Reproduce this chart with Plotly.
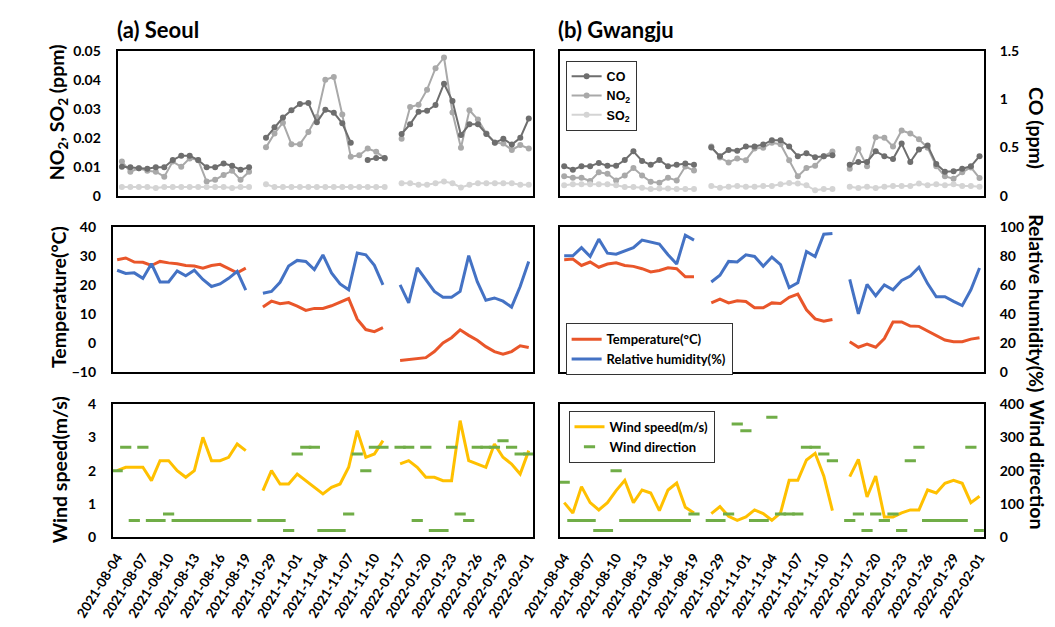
import pandas as pd
import plotly.graph_objects as go

# ---- categories: three sampling campaigns separated by an empty slot ----
def day_labels(start, end):
    return [d.strftime("%Y-%m-%d") for d in pd.date_range(start, end)]

summer = day_labels("2021-08-04", "2021-08-19")
autumn = day_labels("2021-10-28", "2021-11-11")
winter = day_labels("2022-01-17", "2022-02-01")
dates = summer + [" "] + autumn + ["  "] + winter
tick_dates = dates[::3]


def join(p1, p2, p3):
    # None in the spacer slots breaks the line between campaigns
    return p1 + [None] + p2 + [None] + p3


# ---- Seoul ----
seoul_no2 = join(
    [0.0118, 0.0083, 0.0095, 0.0086, 0.0083, 0.0066, 0.0118, 0.0100, 0.0129, 0.0123, 0.0049, 0.0055, 0.0072, 0.0086, 0.0055, 0.0083],
    [0.0167, 0.0215, 0.0252, 0.0178, 0.0178, 0.0220, 0.0272, 0.0400, 0.0410, 0.0280, 0.0135, 0.0140, 0.0163, 0.0152, 0.0129],
    [0.0197, 0.0306, 0.0314, 0.0366, 0.0440, 0.0477, 0.0287, 0.0166, 0.0295, 0.0263, 0.0215, 0.0184, 0.0180, 0.0158, 0.0175, 0.0163],
)
seoul_so2 = join(
    [0.0030, 0.0030, 0.0030, 0.0030, 0.0027, 0.0030, 0.0030, 0.0030, 0.0030, 0.0030, 0.0030, 0.0030, 0.0030, 0.0027, 0.0030, 0.0030],
    [0.0040, 0.0030, 0.0030, 0.0030, 0.0030, 0.0030, 0.0030, 0.0030, 0.0030, 0.0030, 0.0030, 0.0030, 0.0030, 0.0030, 0.0030],
    [0.0043, 0.0043, 0.0038, 0.0038, 0.0043, 0.0049, 0.0043, 0.0029, 0.0038, 0.0043, 0.0043, 0.0043, 0.0043, 0.0043, 0.0038, 0.0038],
)
seoul_co = join(
    [0.30, 0.295, 0.285, 0.28, 0.295, 0.295, 0.37, 0.415, 0.415, 0.37, 0.295, 0.295, 0.335, 0.31, 0.27, 0.295],
    [0.60, 0.71, 0.81, 0.885, 0.95, 0.96, 0.76, 0.89, 0.86, 0.75, 0.55, None, 0.37, 0.39, 0.39],
    [0.64, 0.74, 0.87, 0.88, 0.94, 1.16, 0.98, 0.63, 0.74, 0.74, 0.64, 0.55, 0.59, 0.53, 0.60, 0.80],
)
seoul_temp = join(
    [28.7, 29.3, 27.9, 27.8, 26.7, 28.1, 27.6, 27.3, 26.7, 26.5, 25.8, 26.7, 27.1, 25.6, 24.2, 25.8],
    [12.4, 14.4, 13.5, 13.9, 12.7, 11.2, 11.9, 11.9, 12.8, 14.0, 15.3, 8.2, 4.6, 3.9, 5.3],
    [-6.1, -5.8, -5.6, -5.1, -3.0, 0.0, 1.8, 4.5, 2.6, 0.9, -1.3, -3.0, -3.9, -3.0, -1.0, -1.6],
)
seoul_rh = join(
    [70.1, 67.9, 68.3, 64.5, 74.6, 62.0, 62.0, 69.7, 66.3, 70.1, 63.8, 58.9, 60.7, 64.5, 69.4, 56.4],
    [54.2, 55.5, 61.8, 73.0, 76.9, 76.2, 70.6, 80.7, 68.3, 60.7, 56.6, 82.0, 80.7, 73.5, 60.0],
    [60.0, 47.6, 71.7, 63.4, 55.5, 51.5, 51.5, 55.5, 80.2, 62.2, 49.4, 51.0, 48.8, 44.7, 58.9, 76.2],
)
seoul_ws = join(
    [2.0, 2.1, 2.1, 2.1, 1.7, 2.3, 2.3, 2.0, 1.8, 2.0, 3.0, 2.3, 2.3, 2.4, 2.8, 2.6],
    [1.4, 2.0, 1.6, 1.6, 1.9, 1.7, 1.5, 1.3, 1.5, 1.6, 2.1, 3.2, 2.4, 2.5, 2.9],
    [2.2, 2.3, 2.1, 1.8, 1.8, 1.7, 1.7, 3.5, 2.3, 2.2, 2.1, 2.8, 2.4, 2.2, 1.9, 2.6],
)
seoul_wd = join(
    [200, 270, 50, 270, 50, 50, 70, 50, 50, 50, 50, 50, 50, 50, 50, 50],
    [50, 50, 50, 20, 250, 270, 270, 20, 20, 20, 70, 250, 200, 270, 270],
    [270, 270, 50, 270, 20, 20, 270, 70, 50, 270, 270, 270, 290, 270, 250, 250],
)

# ---- Gwangju ----
gwangju_no2 = join(
    [0.0067, 0.0062, 0.0062, 0.0051, 0.0081, 0.0076, 0.0053, 0.0070, 0.0096, 0.0070, 0.0048, 0.0045, 0.0062, 0.0053, 0.0101, 0.0087],
    [0.0170, 0.0132, 0.0115, 0.0129, 0.0123, 0.0163, 0.0166, 0.0183, 0.0178, 0.0123, 0.0067, 0.0096, 0.0104, 0.0136, 0.0153],
    [0.0093, 0.0161, 0.0102, 0.0202, 0.0200, 0.0170, 0.0225, 0.0215, 0.0195, 0.0166, 0.0102, 0.0067, 0.0059, 0.0081, 0.0098, 0.0061],
)
gwangju_so2 = join(
    [0.0036, 0.0040, 0.0040, 0.0040, 0.0040, 0.0040, 0.0036, 0.0030, 0.0030, 0.0028, 0.0023, 0.0025, 0.0025, 0.0023, 0.0023, 0.0023],
    [0.0034, 0.0028, 0.0031, 0.0034, 0.0031, 0.0031, 0.0034, 0.0034, 0.0040, 0.0044, 0.0042, 0.0036, 0.0019, 0.0023, 0.0023],
    [0.0031, 0.0027, 0.0031, 0.0027, 0.0031, 0.0034, 0.0034, 0.0034, 0.0042, 0.0036, 0.0040, 0.0036, 0.0040, 0.0034, 0.0034, 0.0031],
)
gwangju_co = join(
    [0.305, 0.27, 0.305, 0.305, 0.34, 0.31, 0.31, 0.37, 0.46, 0.36, 0.32, 0.37, 0.305, 0.32, 0.335, 0.32],
    [0.50, 0.41, 0.475, 0.465, 0.51, 0.51, 0.53, 0.575, 0.575, 0.51, 0.41, 0.44, 0.40, 0.41, 0.42],
    [0.32, 0.35, 0.35, 0.46, 0.41, 0.38, 0.54, 0.35, 0.48, 0.52, 0.33, 0.25, 0.255, 0.28, 0.305, 0.41],
)
gwangju_temp = join(
    [28.7, 28.9, 26.7, 27.9, 26.1, 27.2, 27.6, 26.7, 26.4, 25.6, 24.5, 25.0, 25.9, 25.6, 22.8, 22.8],
    [13.8, 15.1, 13.8, 14.5, 14.3, 12.1, 12.1, 13.8, 13.6, 15.7, 16.8, 11.4, 8.3, 7.5, 8.1],
    [0.4, -1.5, -0.4, -1.5, 1.5, 7.2, 7.2, 5.8, 5.7, 4.1, 2.4, 1.0, 0.4, 0.4, 1.3, 1.8],
)
gwangju_rh = join(
    [80.1, 80.1, 85.7, 79.6, 91.6, 81.9, 81.2, 83.5, 85.7, 90.9, 89.8, 88.2, 80.8, 74.4, 94.3, 90.9],
    [62.0, 66.7, 76.2, 75.8, 80.8, 79.6, 72.9, 79.2, 74.0, 58.1, 61.5, 83.0, 79.6, 95.0, 95.5],
    [63.8, 40.0, 60.4, 52.5, 60.0, 56.6, 63.1, 66.1, 72.2, 60.9, 51.8, 51.8, 48.6, 45.7, 56.6, 71.7],
)
gwangju_ws = join(
    [1.04, 0.73, 1.52, 1.04, 0.82, 1.04, 1.40, 1.71, 1.04, 1.42, 1.33, 0.80, 1.42, 1.63, 0.90, 0.73],
    [0.71, 0.92, 0.63, 0.51, 0.61, 0.82, 0.71, 0.51, 0.73, 1.71, 1.71, 2.32, 2.52, 1.84, 0.80],
    [1.82, 2.34, 1.21, 1.84, 0.61, 0.61, 0.73, 0.82, 0.82, 1.42, 1.33, 1.62, 1.71, 1.62, 1.04, 1.23],
)
gwangju_wd = join(
    [165, 50, 50, 50, 20, 20, 200, 50, 50, 50, 50, 50, 50, 50, 50, 70],
    [50, 50, 70, 340, 320, 50, 50, 360, 70, 70, 70, 270, 270, 250, 230],
    [50, 70, 20, 70, 50, 70, 20, 230, 270, 50, 50, 50, 50, 50, 270, 20],
)

# ---- styling ----
FONT = "Lato"
C_CO, C_NO2, C_SO2 = "#6e6e6e", "#a9a9a9", "#d4d4d4"
C_TEMP, C_RH = "#e9562a", "#4472c4"
C_WS, C_WD = "#ffc000", "#70ad47"
W, H = 1055, 627


def px_x(a, b):
    return [a / W, b / W]


def px_y(top, bottom):
    return [1 - bottom / H, 1 - top / H]


def bold(size, family=FONT):
    return dict(family=family, size=size, color="black", weight="bold")


fig = go.Figure()


def gas_traces(xa, ya_left, ya_right, co, no2, so2, legend):
    show = legend is not None
    extra = {"legend": legend} if show else {}
    for y, ya, name, color in ((co, ya_right, "CO", C_CO),
                               (no2, ya_left, "NO<sub>2</sub>", C_NO2),
                               (so2, ya_left, "SO<sub>2</sub>", C_SO2)):
        fig.add_trace(go.Scatter(x=dates, y=y, xaxis=xa, yaxis=ya, name=name,
                                 mode="lines+markers", line=dict(width=2, color=color),
                                 marker=dict(size=6, color=color),
                                 showlegend=show, **extra))


def met_traces(xa, ya_left, ya_right, temp, rh, legend):
    show = legend is not None
    extra = {"legend": legend} if show else {}
    fig.add_trace(go.Scatter(x=dates, y=temp, xaxis=xa, yaxis=ya_left, mode="lines",
                             name="Temperature(°C)", line=dict(width=3, color=C_TEMP),
                             showlegend=show, **extra))
    fig.add_trace(go.Scatter(x=dates, y=rh, xaxis=xa, yaxis=ya_right, mode="lines",
                             name="Relative humidity(%)", line=dict(width=3, color=C_RH),
                             showlegend=show, **extra))


def wind_traces(xa, ya_left, ya_right, ws, wd, legend):
    show = legend is not None
    extra = {"legend": legend} if show else {}
    fig.add_trace(go.Scatter(x=dates, y=ws, xaxis=xa, yaxis=ya_left, mode="lines",
                             name="Wind speed(m/s)", line=dict(width=3, color=C_WS),
                             showlegend=show, **extra))
    fig.add_trace(go.Scatter(x=dates, y=wd, xaxis=xa, yaxis=ya_right, mode="markers",
                             name="Wind direction",
                             marker=dict(symbol="line-ew", size=8, color=C_WD,
                                         line=dict(width=3, color=C_WD)),
                             showlegend=show, **extra))


gas_traces("x", "y", "y2", seoul_co, seoul_no2, seoul_so2, None)
gas_traces("x2", "y3", "y4", gwangju_co, gwangju_no2, gwangju_so2, "legend")
met_traces("x3", "y5", "y6", seoul_temp, seoul_rh, None)
met_traces("x4", "y7", "y8", gwangju_temp, gwangju_rh, "legend2")
wind_traces("x5", "y9", "y10", seoul_ws, seoul_wd, None)
wind_traces("x6", "y11", "y12", gwangju_ws, gwangju_wd, "legend3")


def xaxis(domain, anchor, labels):
    ax = dict(domain=domain, anchor=anchor, type="category",
              categoryorder="array", categoryarray=dates, range=[-0.5, len(dates) - 0.5],
              showline=True, mirror=True, linecolor="black", linewidth=2,
              showgrid=False, zeroline=False, fixedrange=True)
    if labels:
        ax.update(tickmode="array", tickvals=tick_dates, ticktext=tick_dates,
                  tickangle=-58, tickfont=bold(13.5),
                  ticks="outside", ticklen=5, tickcolor="rgba(0,0,0,0)")
    else:
        ax.update(showticklabels=False, ticks="")
    return ax


def yaxis(domain, anchor, rng, dtick, show_labels, side="left", overlaying=None, frame=True):
    ax = dict(anchor=anchor, range=rng, dtick=dtick, tick0=0, side=side,
              showgrid=False, zeroline=False, fixedrange=True,
              showline=frame, mirror=frame, linecolor="black", linewidth=2)
    if overlaying:
        ax["overlaying"] = overlaying
    else:
        ax["domain"] = domain
    if show_labels:
        ax.update(showticklabels=True, tickfont=bold(14), ticks="outside", ticklen=12,
                  tickcolor="rgba(0,0,0,0)")
    else:
        ax.update(showticklabels=False, ticks="")
    return ax


LX = (82, 515)
LX2 = (77, 515)
RX = (543, 985)
ROW1 = px_y(43, 192)
ROW2 = px_y(224, 373)
ROW3 = px_y(406, 543)

fig.update_layout(
    xaxis=xaxis(px_x(*LX), "y", False),
    xaxis2=xaxis(px_x(*RX), "y3", False),
    xaxis3=xaxis(px_x(*LX2), "y5", False),
    xaxis4=xaxis(px_x(*RX), "y7", False),
    xaxis5=xaxis(px_x(*LX2), "y9", True),
    xaxis6=xaxis(px_x(*RX), "y11", True),
    yaxis=yaxis(ROW1, "x", [0, 0.05], 0.01, True),
    yaxis2=yaxis(ROW1, "x", [0, 1.5], 0.5, False, side="right", overlaying="y", frame=False),
    yaxis3=yaxis(ROW1, "x2", [0, 0.05], 0.01, False),
    yaxis4=yaxis(ROW1, "x2", [0, 1.5], 0.5, True, side="right", overlaying="y3", frame=False),
    yaxis5=yaxis(ROW2, "x3", [-10, 40], 10, True),
    yaxis6=yaxis(ROW2, "x3", [0, 100], 20, False, side="right", overlaying="y5", frame=False),
    yaxis7=yaxis(ROW2, "x4", [-10, 40], 10, False),
    yaxis8=yaxis(ROW2, "x4", [0, 100], 20, True, side="right", overlaying="y7", frame=False),
    yaxis9=yaxis(ROW3, "x5", [0, 4], 1, True),
    yaxis10=yaxis(ROW3, "x5", [0, 400], 100, False, side="right", overlaying="y9", frame=False),
    yaxis11=yaxis(ROW3, "x6", [0, 4], 1, False),
    yaxis12=yaxis(ROW3, "x6", [0, 400], 100, True, side="right", overlaying="y11", frame=False),
)

legend_common = dict(xanchor="left", yanchor="top", bgcolor="white",
                     bordercolor="#333333", borderwidth=1, itemwidth=30,
                     tracegroupgap=0)
fig.update_layout(
    legend=dict(x=549 / W, y=1 - 53 / H, font=bold(12.5, "Liberation Sans"), **legend_common),
    legend2=dict(x=549 / W, y=1 - 323 / H, font=bold(13), **legend_common),
    legend3=dict(x=552 / W, y=1 - 413 / H, font=bold(13), **legend_common),
)

annotations = [
    dict(text="(a) Seoul", x=79 / W, y=1 - 21 / H, xanchor="left", font=bold(22)),
    dict(text="(b) Gwangju", x=539 / W, y=1 - 21 / H, xanchor="left", font=bold(22)),
    dict(text="NO<sub>2</sub>, SO<sub>2</sub> (ppm)", x=20 / W, y=1 - 106 / H, textangle=-90),
    dict(text="Temperature(°C)", x=21 / W, y=1 - 296 / H, textangle=-90),
    dict(text="Wind speed(m/s)", x=21 / W, y=1 - 474 / H, textangle=-90),
    dict(text="CO (ppm)", x=1040 / W, y=1 - 122 / H, textangle=90),
    dict(text="Relative humidity(%)", x=1040 / W, y=1 - 302 / H, textangle=90),
    dict(text="Wind direction", x=1041 / W, y=1 - 468 / H, textangle=90),
]
for a in annotations:
    a.setdefault("font", bold(19.5))
    a.setdefault("xanchor", "center")
    a.update(xref="paper", yref="paper", showarrow=False, yanchor="middle")

fig.update_layout(
    annotations=annotations,
    width=W, height=H,
    margin=dict(l=0, r=0, t=0, b=0),
    paper_bgcolor="white", plot_bgcolor="white",
    hovermode=False,
)

fig.write_html("out.html", config={"displayModeBar": False})
